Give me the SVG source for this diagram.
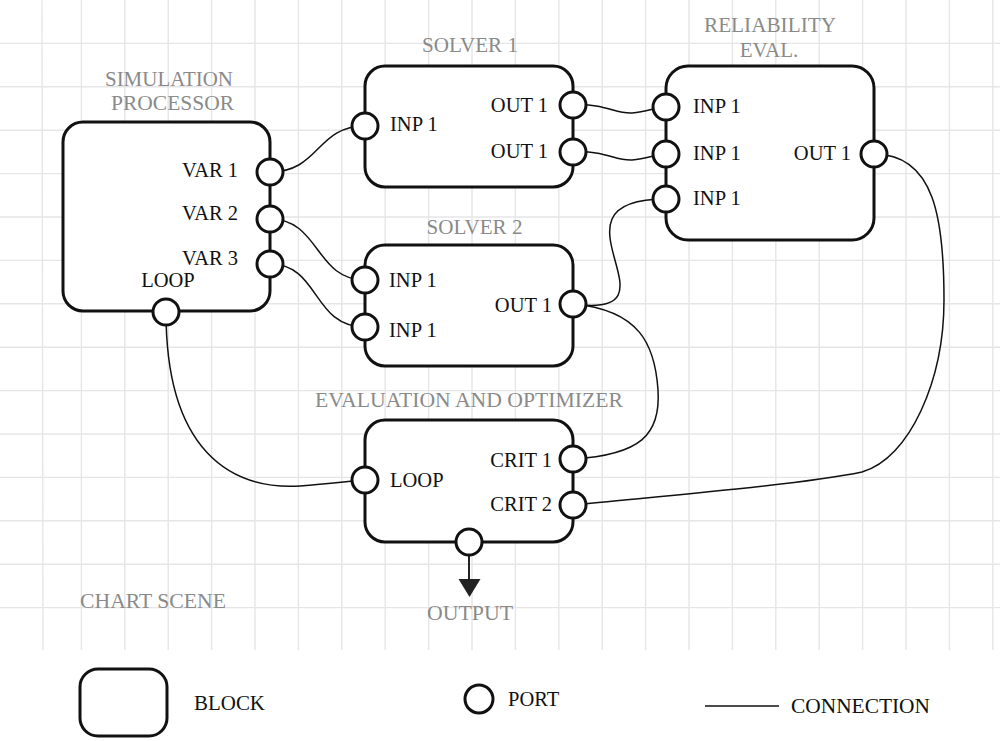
<svg xmlns="http://www.w3.org/2000/svg" width="1000" height="741" viewBox="0 0 1000 741">
<style>
.grid line{stroke:#e6e6e6;stroke-width:1.4}
.block{fill:#fff;stroke:#111;stroke-width:3}
.port{fill:#fff;stroke:#111;stroke-width:3}
.conn{fill:none;stroke:#111;stroke-width:1.5}
.lbl{font-family:"Liberation Serif","DejaVu Serif",serif;font-size:20.5px;fill:#111}
.ttl{font-family:"Liberation Serif","DejaVu Serif",serif;font-size:21px;fill:#8a8a8a}
.end{text-anchor:end}
.mid{text-anchor:middle}
</style>
<rect width="1000" height="741" fill="#fff"/>
<g class="grid">
<line x1="42" y1="0" x2="43" y2="650"/><line x1="81.4" y1="0" x2="81.4" y2="650"/><line x1="124.8" y1="0" x2="124.8" y2="650"/><line x1="168.2" y1="0" x2="168.2" y2="650"/><line x1="211.6" y1="0" x2="211.6" y2="650"/><line x1="255" y1="0" x2="255" y2="650"/><line x1="298.4" y1="0" x2="298.4" y2="650"/><line x1="341.8" y1="0" x2="341.8" y2="650"/><line x1="385.2" y1="0" x2="385.2" y2="650"/><line x1="428.6" y1="0" x2="428.6" y2="650"/><line x1="472" y1="0" x2="472" y2="650"/><line x1="515.4" y1="0" x2="515.4" y2="650"/><line x1="558.8" y1="0" x2="558.8" y2="650"/><line x1="602.2" y1="0" x2="602.2" y2="650"/><line x1="645.6" y1="0" x2="645.6" y2="650"/><line x1="689" y1="0" x2="689" y2="650"/><line x1="732.4" y1="0" x2="732.4" y2="650"/><line x1="775.8" y1="0" x2="775.8" y2="650"/><line x1="819.2" y1="0" x2="819.2" y2="650"/><line x1="862.6" y1="0" x2="862.6" y2="650"/><line x1="906" y1="0" x2="906" y2="650"/><line x1="949.4" y1="0" x2="949.4" y2="650"/><line x1="992.8" y1="0" x2="992.8" y2="650"/>
<line x1="0" y1="43.4" x2="1000" y2="43.4"/><line x1="0" y1="86.8" x2="1000" y2="86.8"/><line x1="0" y1="130.2" x2="1000" y2="130.2"/><line x1="0" y1="173.6" x2="1000" y2="173.6"/><line x1="0" y1="217" x2="1000" y2="217"/><line x1="0" y1="260.4" x2="1000" y2="260.4"/><line x1="0" y1="303.8" x2="1000" y2="303.8"/><line x1="0" y1="347.2" x2="1000" y2="347.2"/><line x1="0" y1="390.6" x2="1000" y2="390.6"/><line x1="0" y1="434" x2="1000" y2="434"/><line x1="0" y1="477.4" x2="1000" y2="477.4"/><line x1="0" y1="520.8" x2="1000" y2="520.8"/><line x1="0" y1="564.2" x2="1000" y2="564.2"/><line x1="0" y1="607.6" x2="1000" y2="607.6"/>
</g>
<text class="ttl" x="80" y="608" textLength="146" lengthAdjust="spacingAndGlyphs">CHART SCENE</text>

<g id="connectors">
<path class="conn" d="M270,172 C320,172 316,126 365,126"/>
<path class="conn" d="M270,219 C320,219 315,280 365,280"/>
<path class="conn" d="M270,264 C320,264 312,327 365,327"/>
<path class="conn" d="M573,105 C605,103 615,114 632,113 C648,112 655,107 666,107"/>
<path class="conn" d="M573,152 C605,150 615,161 632,160 C648,159 655,154 666,154"/>
<path class="conn" d="M573,304 C690,320 535,199 666,199"/>
<path class="conn" d="M573,304 C640,310 655,345 658,390 C661,435 640,455 573,459"/>
<path class="conn" d="M166,312 C166,450 230,490 300,486 C330,484 350,481 365,480"/>
<path class="conn" d="M874,154 C935,154 944,220 944,300 C944,380 910,458 862,472 C800,485 650,497 573,505"/>
<line x1="469" y1="542" x2="469" y2="580" stroke="#222" stroke-width="2"/>
<polygon points="458.5,579 480.5,579 469.5,597" fill="#222"/>
</g>

<g id="simulation-processor">
<text class="ttl mid" x="169" y="86" textLength="128" lengthAdjust="spacingAndGlyphs">SIMULATION</text>
<text class="ttl mid" x="172.5" y="110" textLength="123" lengthAdjust="spacingAndGlyphs">PROCESSOR</text>
<rect class="block" x="63" y="122" width="207" height="189" rx="20"/>
<circle class="port" cx="270" cy="172" r="13"/>
<circle class="port" cx="270" cy="219" r="13"/>
<circle class="port" cx="270" cy="264" r="13"/>
<circle class="port" cx="166" cy="312" r="13"/>
<text class="lbl end" x="238" y="177">VAR 1</text>
<text class="lbl end" x="238" y="219.5">VAR 2</text>
<text class="lbl end" x="238" y="264.5">VAR 3</text>
<text class="lbl mid" x="168" y="287">LOOP</text>
</g>

<g id="solver-1">
<text class="ttl mid" x="470" y="52" textLength="96" lengthAdjust="spacingAndGlyphs">SOLVER 1</text>
<rect class="block" x="365" y="66" width="208" height="121" rx="20"/>
<circle class="port" cx="365" cy="126" r="13"/>
<circle class="port" cx="573" cy="105" r="13"/>
<circle class="port" cx="573" cy="152" r="13"/>
<text class="lbl" x="390" y="131">INP 1</text>
<text class="lbl end" x="548" y="111.5">OUT 1</text>
<text class="lbl end" x="548" y="158">OUT 1</text>
</g>

<g id="reliability-eval">
<text class="ttl mid" x="770" y="32" textLength="132" lengthAdjust="spacingAndGlyphs">RELIABILITY</text>
<text class="ttl mid" x="769" y="56.5">EVAL.</text>
<rect class="block" x="666" y="66" width="208" height="174" rx="22"/>
<circle class="port" cx="666" cy="107" r="13"/>
<circle class="port" cx="666" cy="154" r="13"/>
<circle class="port" cx="666" cy="199" r="13"/>
<circle class="port" cx="874" cy="154" r="13"/>
<text class="lbl" x="693" y="113">INP 1</text>
<text class="lbl" x="693" y="160">INP 1</text>
<text class="lbl" x="693" y="205">INP 1</text>
<text class="lbl end" x="851" y="160">OUT 1</text>
</g>

<g id="solver-2">
<text class="ttl mid" x="474.5" y="234" textLength="96" lengthAdjust="spacingAndGlyphs">SOLVER 2</text>
<rect class="block" x="365" y="245" width="208" height="121" rx="20"/>
<circle class="port" cx="365" cy="280" r="13"/>
<circle class="port" cx="365" cy="327" r="13"/>
<circle class="port" cx="573" cy="304" r="13"/>
<text class="lbl" x="389" y="286.5">INP 1</text>
<text class="lbl" x="389" y="336.5">INP 1</text>
<text class="lbl end" x="552" y="311.5">OUT 1</text>
</g>

<g id="evaluation-optimizer">
<text class="ttl mid" x="469" y="406.5" textLength="308" lengthAdjust="spacingAndGlyphs">EVALUATION AND OPTIMIZER</text>
<rect class="block" x="365" y="420" width="208" height="122" rx="20"/>
<circle class="port" cx="365" cy="480" r="13"/>
<circle class="port" cx="573" cy="459" r="13"/>
<circle class="port" cx="573" cy="505" r="13"/>
<circle class="port" cx="469" cy="542" r="13"/>
<text class="lbl" x="390" y="486.5">LOOP</text>
<text class="lbl end" x="552" y="466.5">CRIT 1</text>
<text class="lbl end" x="552" y="510.5">CRIT 2</text>
<text class="ttl mid" x="470" y="620" textLength="86" lengthAdjust="spacingAndGlyphs">OUTPUT</text>
</g>

<g id="legend">
<rect class="block" x="80" y="669" width="87" height="67" rx="18" stroke-width="2.5"/>
<text class="lbl" x="194" y="710" textLength="71" lengthAdjust="spacingAndGlyphs">BLOCK</text>
<circle class="port" cx="479" cy="699" r="14" stroke-width="2.5"/>
<text class="lbl" x="508" y="706">PORT</text>
<line x1="705" y1="706" x2="779" y2="706" stroke="#111" stroke-width="1.5"/>
<text class="lbl" x="791" y="713" textLength="139" lengthAdjust="spacingAndGlyphs">CONNECTION</text>
</g>
</svg>
